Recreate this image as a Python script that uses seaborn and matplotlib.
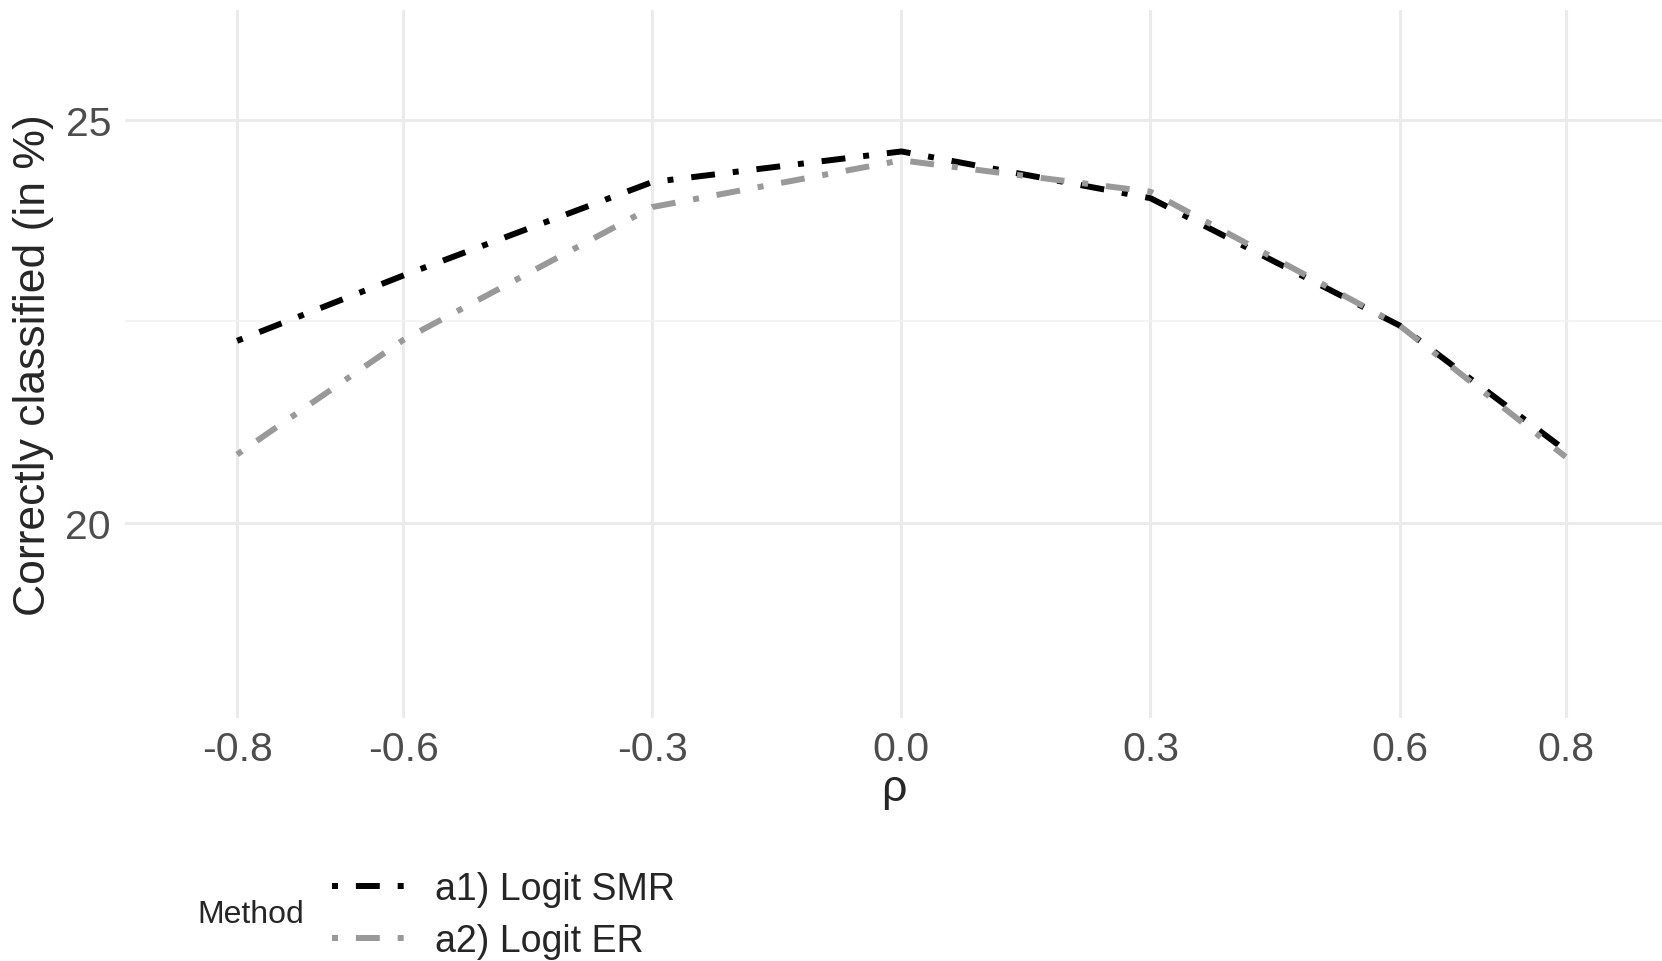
import pandas as pd
import seaborn as sns
import matplotlib.pyplot as plt

rho = [-0.8, -0.6, -0.3, 0.0, 0.3, 0.6, 0.8]
smr = [22.26, 23.07, 24.23, 24.61, 24.03, 22.45, 20.90]
er = [20.85, 22.27, 23.92, 24.50, 24.11, 22.45, 20.82]
methods = ['a1) Logit SMR', 'a2) Logit ER']

df = pd.DataFrame({
    'rho': rho + rho,
    'pct': smr + er,
    'Method': [methods[0]] * len(rho) + [methods[1]] * len(rho),
})

sns.set_style('white')
plt.rcParams['font.family'] = ['Liberation Sans', 'DejaVu Sans']

fig = plt.figure(figsize=(16.62, 9.62), dpi=100)
ax = fig.add_axes([125 / 1662, 1 - 719 / 962, 1 - 125 / 1662, (719 - 10.6) / 962])

sns.lineplot(data=df, x='rho', y='pct', hue='Method', style='Method',
             palette={methods[0]: 'black', methods[1]: '#999999'},
             dashes={methods[0]: (1, 3, 4, 3), methods[1]: (1, 3, 4, 3)},
             linewidth=4.3, ax=ax, legend=True)

handles, labels = ax.get_legend_handles_labels()
ax.get_legend().remove()

ax.set_xlim(-0.935, 0.916)
ax.set_ylim(17.58, 26.37)
ax.set_xticks(rho)
ax.set_xticklabels([f'{v:.1f}' for v in rho])
ax.set_yticks([20, 25])
ax.set_yticks([22.5], minor=True)
ax.grid(True, which='major', color='#ebebeb', linewidth=2.2)
ax.grid(True, which='minor', axis='y', color='#f2f2f2', linewidth=1.2)
ax.set_axisbelow(True)
for s in ax.spines.values():
    s.set_visible(False)
ax.tick_params(axis='both', which='both', length=0, labelsize=29.5, labelcolor='#4d4d4d')
ax.tick_params(axis='x', pad=9)
ax.tick_params(axis='y', pad=10)

ax.set_xlabel('ρ', fontsize=32, labelpad=0)
ax.set_ylabel('Correctly classified (in %)', fontsize=32, labelpad=8)

fig.legend(handles, labels, loc='center left', bbox_to_anchor=(332 / 1662, 1 - 916 / 962),
           frameon=False, fontsize=27, handlelength=1.95, handletextpad=0.8,
           labelspacing=0.42, borderpad=0, borderaxespad=0)
fig.text(197 / 1662, 1 - 915 / 962, 'Method', fontsize=23, va='center', ha='left')

fig.savefig('out.png', dpi=100)
